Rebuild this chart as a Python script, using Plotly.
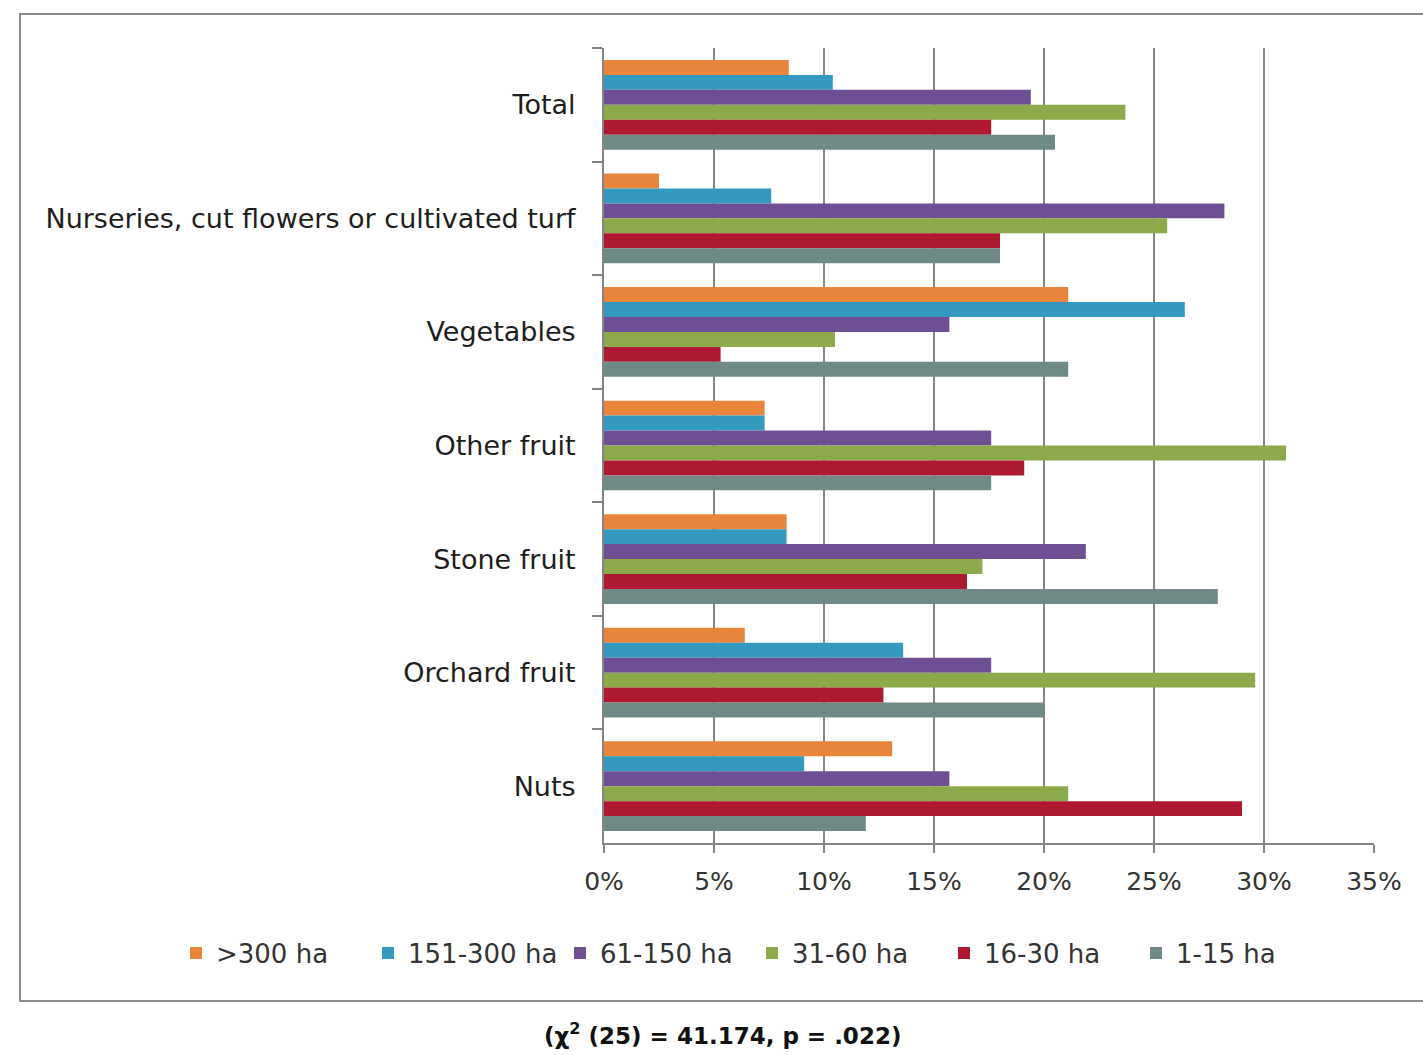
import plotly.graph_objects as go

# Crop groups (top to bottom) and farm-size classes
categories = [
    "Total",
    "Nurseries, cut flowers or cultivated turf",
    "Vegetables",
    "Other fruit",
    "Stone fruit",
    "Orchard fruit",
    "Nuts",
]
series_names = [">300 ha", "151-300 ha", "61-150 ha", "31-60 ha", "16-30 ha", "1-15 ha"]

# Share of respondents in each farm-size class (fractions)
gt300 = [0.084, 0.025, 0.211, 0.073, 0.083, 0.064, 0.131]
ha151_300 = [0.104, 0.076, 0.264, 0.073, 0.083, 0.136, 0.091]
ha61_150 = [0.194, 0.282, 0.157, 0.176, 0.219, 0.176, 0.157]
ha31_60 = [0.237, 0.256, 0.105, 0.310, 0.172, 0.296, 0.211]
ha16_30 = [0.176, 0.180, 0.053, 0.191, 0.165, 0.127, 0.290]
ha1_15 = [0.205, 0.180, 0.211, 0.176, 0.279, 0.200, 0.119]

series_values = [gt300, ha151_300, ha61_150, ha31_60, ha16_30, ha1_15]
colors = ["#E8853A", "#3399BF", "#6E4F94", "#8CAA4A", "#AE1831", "#6F8986"]

x_ticks = [0, 0.05, 0.10, 0.15, 0.20, 0.25, 0.30, 0.35]
x_ticktext = ["0%", "5%", "10%", "15%", "20%", "25%", "30%", "35%"]

FONT = "'DejaVu Sans', sans-serif"

fig = go.Figure()
for name, vals, col in zip(series_names, series_values, colors):
    fig.add_trace(go.Bar(
        name=name,
        x=vals,
        y=categories,
        orientation="h",
        marker=dict(color=col, line=dict(width=0)),
    ))

W, H = 1423, 1055
ML, MR, MT, MB = 604, 49, 48, 212
pw, ph = W - ML - MR, H - MT - MB


def px_x(p):
    return (p - ML) / pw


def px_y(p):
    return (H - MB - p) / ph


fig.update_layout(
    width=W, height=H,
    margin=dict(l=ML, r=MR, t=MT, b=MB, pad=0),
    paper_bgcolor="white",
    plot_bgcolor="white",
    barmode="group",
    bargap=0.21,
    bargroupgap=0,
    font=dict(family=FONT, size=25, color="#222222"),
    xaxis=dict(
        range=[0, 0.35],
        tickvals=x_ticks,
        ticktext=x_ticktext,
        showgrid=True,
        gridcolor="#858585",
        gridwidth=2,
        zeroline=False,
        showline=True,
        linecolor="#858585",
        linewidth=2,
        ticks="outside",
        ticklen=8,
        tickwidth=2,
        tickcolor="#858585",
        tickfont=dict(size=25, color="#333333"),
        ticklabelstandoff=7,
    ),
    yaxis=dict(
        type="category",
        categoryorder="array",
        categoryarray=categories,
        autorange="reversed",
        tickson="boundaries",
        showgrid=False,
        showline=True,
        linecolor="#858585",
        linewidth=2,
        ticks="outside",
        ticklen=10,
        tickwidth=2,
        tickcolor="#858585",
        tickfont=dict(size=27, color="#1e1e1e"),
        ticklabelstandoff=21,
    ),
    legend=dict(
        orientation="h",
        x=px_x(176), xanchor="left",
        y=px_y(953), yanchor="middle",
        font=dict(size=26, color="#333333"),
        itemwidth=30,
        entrywidth=147,
        entrywidthmode="pixels",
        traceorder="normal",
    ),
    showlegend=True,
)

# Chart frame
fig.add_shape(
    type="rect", xref="paper", yref="paper",
    x0=px_x(20), x1=px_x(1445), y0=px_y(1001), y1=px_y(14),
    line=dict(color="#8c8c8c", width=2), fillcolor="rgba(0,0,0,0)",
    layer="below",
)

# Test statistic caption beneath the chart
fig.add_annotation(
    xref="paper", yref="paper",
    x=px_x(722), y=px_y(1034),
    text="<b>(χ<sup>2</sup> (25) = 41.174, p = .022)</b>",
    showarrow=False,
    font=dict(size=23, color="#111111"),
    xanchor="center", yanchor="middle",
)

fig.write_html("out.html")
